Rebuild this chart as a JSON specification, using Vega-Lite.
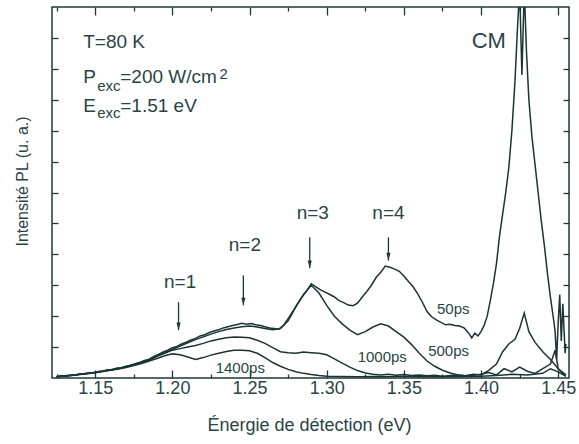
{
  "$schema": "https://vega.github.io/schema/vega-lite/v6.json",
  "width": 517,
  "height": 371,
  "autosize": {"type": "none"},
  "padding": {"left": 52, "top": 7, "right": 10, "bottom": 66},
  "background": "white",
  "config": {
    "view": {"stroke": "#1e3838", "strokeWidth": 1.5},
    "font": "Liberation Sans",
    "text": {"font": "Liberation Sans", "color": "#2a4444"}
  },
  "datasets": {
    "curves": [
      {"s":"50ps","e":1.125,"v":0.04},{"s":"50ps","e":1.128,"v":0.08},{"s":"50ps","e":1.131,"v":0.06},{"s":"50ps","e":1.134,"v":0.1},{"s":"50ps","e":1.137,"v":0.09},{"s":"50ps","e":1.14,"v":0.13},{"s":"50ps","e":1.143,"v":0.12},{"s":"50ps","e":1.146,"v":0.17},{"s":"50ps","e":1.149,"v":0.16},{"s":"50ps","e":1.152,"v":0.21},{"s":"50ps","e":1.155,"v":0.22},{"s":"50ps","e":1.158,"v":0.27},{"s":"50ps","e":1.161,"v":0.26},{"s":"50ps","e":1.164,"v":0.32},{"s":"50ps","e":1.167,"v":0.33},{"s":"50ps","e":1.17,"v":0.38},{"s":"50ps","e":1.173,"v":0.41},{"s":"50ps","e":1.176,"v":0.46},{"s":"50ps","e":1.179,"v":0.5},{"s":"50ps","e":1.182,"v":0.57},{"s":"50ps","e":1.185,"v":0.61},{"s":"50ps","e":1.188,"v":0.7},{"s":"50ps","e":1.191,"v":0.76},{"s":"50ps","e":1.194,"v":0.84},{"s":"50ps","e":1.197,"v":0.9},{"s":"50ps","e":1.2,"v":0.98},{"s":"50ps","e":1.203,"v":1.02},{"s":"50ps","e":1.206,"v":1.1},{"s":"50ps","e":1.209,"v":1.16},{"s":"50ps","e":1.212,"v":1.23},{"s":"50ps","e":1.215,"v":1.28},{"s":"50ps","e":1.218,"v":1.36},{"s":"50ps","e":1.221,"v":1.4},{"s":"50ps","e":1.224,"v":1.47},{"s":"50ps","e":1.227,"v":1.52},{"s":"50ps","e":1.23,"v":1.56},{"s":"50ps","e":1.233,"v":1.62},{"s":"50ps","e":1.236,"v":1.66},{"s":"50ps","e":1.239,"v":1.7},{"s":"50ps","e":1.242,"v":1.73},{"s":"50ps","e":1.245,"v":1.77},{"s":"50ps","e":1.248,"v":1.74},{"s":"50ps","e":1.251,"v":1.76},{"s":"50ps","e":1.254,"v":1.72},{"s":"50ps","e":1.257,"v":1.7},{"s":"50ps","e":1.26,"v":1.66},{"s":"50ps","e":1.263,"v":1.62},{"s":"50ps","e":1.266,"v":1.6},{"s":"50ps","e":1.269,"v":1.58},{"s":"50ps","e":1.272,"v":1.7},{"s":"50ps","e":1.275,"v":1.92},{"s":"50ps","e":1.278,"v":2.15},{"s":"50ps","e":1.281,"v":2.4},{"s":"50ps","e":1.284,"v":2.62},{"s":"50ps","e":1.287,"v":2.82},{"s":"50ps","e":1.29,"v":3.05},{"s":"50ps","e":1.293,"v":2.95},{"s":"50ps","e":1.296,"v":2.85},{"s":"50ps","e":1.299,"v":2.78},{"s":"50ps","e":1.302,"v":2.7},{"s":"50ps","e":1.305,"v":2.62},{"s":"50ps","e":1.308,"v":2.5},{"s":"50ps","e":1.311,"v":2.44},{"s":"50ps","e":1.314,"v":2.36},{"s":"50ps","e":1.317,"v":2.34},{"s":"50ps","e":1.32,"v":2.42},{"s":"50ps","e":1.323,"v":2.62},{"s":"50ps","e":1.326,"v":2.8},{"s":"50ps","e":1.329,"v":3.0},{"s":"50ps","e":1.332,"v":3.25},{"s":"50ps","e":1.335,"v":3.42},{"s":"50ps","e":1.338,"v":3.62},{"s":"50ps","e":1.341,"v":3.58},{"s":"50ps","e":1.344,"v":3.52},{"s":"50ps","e":1.347,"v":3.45},{"s":"50ps","e":1.35,"v":3.3},{"s":"50ps","e":1.353,"v":3.12},{"s":"50ps","e":1.356,"v":2.95},{"s":"50ps","e":1.359,"v":2.72},{"s":"50ps","e":1.362,"v":2.45},{"s":"50ps","e":1.365,"v":2.15},{"s":"50ps","e":1.368,"v":1.98},{"s":"50ps","e":1.371,"v":1.88},{"s":"50ps","e":1.374,"v":1.8},{"s":"50ps","e":1.377,"v":1.72},{"s":"50ps","e":1.38,"v":1.74},{"s":"50ps","e":1.383,"v":1.7},{"s":"50ps","e":1.386,"v":1.68},{"s":"50ps","e":1.389,"v":1.62},{"s":"50ps","e":1.392,"v":1.45},{"s":"50ps","e":1.394,"v":1.3},{"s":"50ps","e":1.396,"v":1.45},{"s":"50ps","e":1.398,"v":1.36},{"s":"50ps","e":1.4,"v":1.5},{"s":"50ps","e":1.402,"v":1.7},{"s":"50ps","e":1.404,"v":2.0},{"s":"50ps","e":1.406,"v":2.5},{"s":"50ps","e":1.408,"v":3.05},{"s":"50ps","e":1.41,"v":3.7},{"s":"50ps","e":1.412,"v":4.6},{"s":"50ps","e":1.414,"v":5.3},{"s":"50ps","e":1.416,"v":6.0},{"s":"50ps","e":1.418,"v":6.8},{"s":"50ps","e":1.42,"v":8.0},{"s":"50ps","e":1.422,"v":9.6},{"s":"50ps","e":1.4235,"v":11.2},{"s":"50ps","e":1.425,"v":12.6},{"s":"50ps","e":1.4265,"v":9.8},{"s":"50ps","e":1.428,"v":12.6},{"s":"50ps","e":1.4295,"v":10.5},{"s":"50ps","e":1.431,"v":9.0},{"s":"50ps","e":1.433,"v":7.8},{"s":"50ps","e":1.435,"v":6.9},{"s":"50ps","e":1.437,"v":6.0},{"s":"50ps","e":1.439,"v":5.1},{"s":"50ps","e":1.441,"v":4.3},{"s":"50ps","e":1.443,"v":3.4},{"s":"50ps","e":1.445,"v":2.6},{"s":"50ps","e":1.447,"v":1.9},{"s":"50ps","e":1.448,"v":1.5},{"s":"50ps","e":1.449,"v":0.6},{"s":"50ps","e":1.45,"v":1.8},{"s":"50ps","e":1.451,"v":2.7},{"s":"50ps","e":1.452,"v":1.2},{"s":"50ps","e":1.453,"v":2.4},{"s":"50ps","e":1.4545,"v":0.8},{"s":"50ps","e":1.455,"v":1.1},

      {"s":"500ps","e":1.125,"v":0.03},{"s":"500ps","e":1.13,"v":0.07},{"s":"500ps","e":1.135,"v":0.09},{"s":"500ps","e":1.14,"v":0.12},{"s":"500ps","e":1.145,"v":0.15},{"s":"500ps","e":1.15,"v":0.19},{"s":"500ps","e":1.155,"v":0.23},{"s":"500ps","e":1.16,"v":0.27},{"s":"500ps","e":1.165,"v":0.31},{"s":"500ps","e":1.17,"v":0.37},{"s":"500ps","e":1.175,"v":0.44},{"s":"500ps","e":1.18,"v":0.52},{"s":"500ps","e":1.185,"v":0.6},{"s":"500ps","e":1.19,"v":0.72},{"s":"500ps","e":1.195,"v":0.83},{"s":"500ps","e":1.2,"v":0.93},{"s":"500ps","e":1.205,"v":1.03},{"s":"500ps","e":1.21,"v":1.14},{"s":"500ps","e":1.215,"v":1.24},{"s":"500ps","e":1.22,"v":1.33},{"s":"500ps","e":1.225,"v":1.42},{"s":"500ps","e":1.23,"v":1.5},{"s":"500ps","e":1.235,"v":1.57},{"s":"500ps","e":1.24,"v":1.62},{"s":"500ps","e":1.245,"v":1.66},{"s":"500ps","e":1.25,"v":1.68},{"s":"500ps","e":1.255,"v":1.65},{"s":"500ps","e":1.26,"v":1.6},{"s":"500ps","e":1.265,"v":1.56},{"s":"500ps","e":1.27,"v":1.6},{"s":"500ps","e":1.275,"v":1.85},{"s":"500ps","e":1.28,"v":2.3},{"s":"500ps","e":1.285,"v":2.7},{"s":"500ps","e":1.29,"v":3.0},{"s":"500ps","e":1.295,"v":2.75},{"s":"500ps","e":1.3,"v":2.35},{"s":"500ps","e":1.305,"v":2.0},{"s":"500ps","e":1.31,"v":1.75},{"s":"500ps","e":1.315,"v":1.55},{"s":"500ps","e":1.32,"v":1.4},{"s":"500ps","e":1.325,"v":1.5},{"s":"500ps","e":1.33,"v":1.65},{"s":"500ps","e":1.335,"v":1.75},{"s":"500ps","e":1.34,"v":1.68},{"s":"500ps","e":1.345,"v":1.5},{"s":"500ps","e":1.35,"v":1.32},{"s":"500ps","e":1.355,"v":1.08},{"s":"500ps","e":1.36,"v":0.8},{"s":"500ps","e":1.365,"v":0.55},{"s":"500ps","e":1.37,"v":0.38},{"s":"500ps","e":1.375,"v":0.25},{"s":"500ps","e":1.38,"v":0.16},{"s":"500ps","e":1.385,"v":0.1},{"s":"500ps","e":1.39,"v":0.07},{"s":"500ps","e":1.395,"v":0.12},{"s":"500ps","e":1.4,"v":0.1},{"s":"500ps","e":1.405,"v":0.25},{"s":"500ps","e":1.41,"v":0.45},{"s":"500ps","e":1.414,"v":0.85},{"s":"500ps","e":1.418,"v":1.1},{"s":"500ps","e":1.422,"v":1.25},{"s":"500ps","e":1.425,"v":1.6},{"s":"500ps","e":1.428,"v":2.1},{"s":"500ps","e":1.431,"v":1.5},{"s":"500ps","e":1.435,"v":1.15},{"s":"500ps","e":1.44,"v":0.85},{"s":"500ps","e":1.445,"v":0.6},{"s":"500ps","e":1.45,"v":0.3},{"s":"500ps","e":1.453,"v":0.15},{"s":"500ps","e":1.455,"v":0.1},

      {"s":"1000ps","e":1.125,"v":0.04},{"s":"1000ps","e":1.13,"v":0.07},{"s":"1000ps","e":1.135,"v":0.09},{"s":"1000ps","e":1.14,"v":0.12},{"s":"1000ps","e":1.145,"v":0.15},{"s":"1000ps","e":1.15,"v":0.18},{"s":"1000ps","e":1.155,"v":0.22},{"s":"1000ps","e":1.16,"v":0.27},{"s":"1000ps","e":1.165,"v":0.3},{"s":"1000ps","e":1.17,"v":0.36},{"s":"1000ps","e":1.175,"v":0.42},{"s":"1000ps","e":1.18,"v":0.5},{"s":"1000ps","e":1.185,"v":0.58},{"s":"1000ps","e":1.19,"v":0.7},{"s":"1000ps","e":1.195,"v":0.8},{"s":"1000ps","e":1.2,"v":0.9},{"s":"1000ps","e":1.205,"v":0.95},{"s":"1000ps","e":1.21,"v":1.0},{"s":"1000ps","e":1.215,"v":1.05},{"s":"1000ps","e":1.22,"v":1.12},{"s":"1000ps","e":1.225,"v":1.2},{"s":"1000ps","e":1.23,"v":1.25},{"s":"1000ps","e":1.235,"v":1.3},{"s":"1000ps","e":1.24,"v":1.33},{"s":"1000ps","e":1.245,"v":1.32},{"s":"1000ps","e":1.25,"v":1.3},{"s":"1000ps","e":1.255,"v":1.22},{"s":"1000ps","e":1.26,"v":1.12},{"s":"1000ps","e":1.265,"v":0.98},{"s":"1000ps","e":1.27,"v":0.85},{"s":"1000ps","e":1.275,"v":0.82},{"s":"1000ps","e":1.28,"v":0.8},{"s":"1000ps","e":1.285,"v":0.84},{"s":"1000ps","e":1.29,"v":0.82},{"s":"1000ps","e":1.295,"v":0.8},{"s":"1000ps","e":1.3,"v":0.75},{"s":"1000ps","e":1.305,"v":0.62},{"s":"1000ps","e":1.31,"v":0.48},{"s":"1000ps","e":1.315,"v":0.35},{"s":"1000ps","e":1.32,"v":0.24},{"s":"1000ps","e":1.325,"v":0.16},{"s":"1000ps","e":1.33,"v":0.12},{"s":"1000ps","e":1.335,"v":0.1},{"s":"1000ps","e":1.34,"v":0.12},{"s":"1000ps","e":1.345,"v":0.09},{"s":"1000ps","e":1.35,"v":0.11},{"s":"1000ps","e":1.355,"v":0.08},{"s":"1000ps","e":1.36,"v":0.1},{"s":"1000ps","e":1.365,"v":0.07},{"s":"1000ps","e":1.37,"v":0.09},{"s":"1000ps","e":1.375,"v":0.06},{"s":"1000ps","e":1.38,"v":0.08},{"s":"1000ps","e":1.385,"v":0.1},{"s":"1000ps","e":1.39,"v":0.07},{"s":"1000ps","e":1.395,"v":0.09},{"s":"1000ps","e":1.4,"v":0.12},{"s":"1000ps","e":1.405,"v":0.18},{"s":"1000ps","e":1.41,"v":0.1},{"s":"1000ps","e":1.415,"v":0.3},{"s":"1000ps","e":1.42,"v":0.2},{"s":"1000ps","e":1.425,"v":0.35},{"s":"1000ps","e":1.43,"v":0.22},{"s":"1000ps","e":1.435,"v":0.15},{"s":"1000ps","e":1.44,"v":0.3},{"s":"1000ps","e":1.445,"v":0.45},{"s":"1000ps","e":1.448,"v":0.9},{"s":"1000ps","e":1.45,"v":0.3},{"s":"1000ps","e":1.455,"v":0.1},

      {"s":"1400ps","e":1.125,"v":0.04},{"s":"1400ps","e":1.13,"v":0.06},{"s":"1400ps","e":1.135,"v":0.08},{"s":"1400ps","e":1.14,"v":0.11},{"s":"1400ps","e":1.145,"v":0.14},{"s":"1400ps","e":1.15,"v":0.17},{"s":"1400ps","e":1.155,"v":0.21},{"s":"1400ps","e":1.16,"v":0.25},{"s":"1400ps","e":1.165,"v":0.29},{"s":"1400ps","e":1.17,"v":0.34},{"s":"1400ps","e":1.175,"v":0.4},{"s":"1400ps","e":1.18,"v":0.47},{"s":"1400ps","e":1.185,"v":0.55},{"s":"1400ps","e":1.19,"v":0.63},{"s":"1400ps","e":1.195,"v":0.72},{"s":"1400ps","e":1.2,"v":0.78},{"s":"1400ps","e":1.205,"v":0.75},{"s":"1400ps","e":1.21,"v":0.68},{"s":"1400ps","e":1.215,"v":0.6},{"s":"1400ps","e":1.22,"v":0.66},{"s":"1400ps","e":1.225,"v":0.74},{"s":"1400ps","e":1.23,"v":0.8},{"s":"1400ps","e":1.235,"v":0.86},{"s":"1400ps","e":1.24,"v":0.9},{"s":"1400ps","e":1.245,"v":0.9},{"s":"1400ps","e":1.25,"v":0.88},{"s":"1400ps","e":1.255,"v":0.8},{"s":"1400ps","e":1.26,"v":0.66},{"s":"1400ps","e":1.265,"v":0.5},{"s":"1400ps","e":1.27,"v":0.38},{"s":"1400ps","e":1.275,"v":0.28},{"s":"1400ps","e":1.28,"v":0.2},{"s":"1400ps","e":1.285,"v":0.15},{"s":"1400ps","e":1.29,"v":0.11},{"s":"1400ps","e":1.295,"v":0.08},{"s":"1400ps","e":1.3,"v":0.06},{"s":"1400ps","e":1.31,"v":0.05},{"s":"1400ps","e":1.32,"v":0.04},{"s":"1400ps","e":1.33,"v":0.05},{"s":"1400ps","e":1.34,"v":0.04},{"s":"1400ps","e":1.35,"v":0.06},{"s":"1400ps","e":1.36,"v":0.04},{"s":"1400ps","e":1.37,"v":0.05},{"s":"1400ps","e":1.38,"v":0.04},{"s":"1400ps","e":1.39,"v":0.05},{"s":"1400ps","e":1.4,"v":0.06},{"s":"1400ps","e":1.41,"v":0.08},{"s":"1400ps","e":1.42,"v":0.12},{"s":"1400ps","e":1.43,"v":0.1},{"s":"1400ps","e":1.44,"v":0.15},{"s":"1400ps","e":1.445,"v":0.3},{"s":"1400ps","e":1.45,"v":0.2},{"s":"1400ps","e":1.455,"v":0.05}
    ],
    "arrows": [
      {"e":1.204,"v1":2.45,"v2":1.55},
      {"e":1.246,"v1":3.32,"v2":2.35},
      {"e":1.289,"v1":4.55,"v2":3.55},
      {"e":1.34,"v1":4.55,"v2":3.8}
    ],
    "nlabels": [
      {"e":1.205,"v":3.1,"t":"n=1"},
      {"e":1.247,"v":4.29,"t":"n=2"},
      {"e":1.291,"v":5.35,"t":"n=3"},
      {"e":1.34,"v":5.35,"t":"n=4"}
    ],
    "tlabels": [
      {"e":1.382,"v":2.23,"t":"50ps"},
      {"e":1.379,"v":0.87,"t":"500ps"},
      {"e":1.336,"v":0.68,"t":"1000ps"},
      {"e":1.244,"v":0.32,"t":"1400ps"}
    ],
    "bigtext": [
      {"e":1.1422,"v":10.87,"t":"T=80 K"},
      {"e":1.1422,"v":9.73,"t":"P"},
      {"e":1.1662,"v":9.73,"t":"=200 W/cm"},
      {"e":1.1422,"v":8.81,"t":"E"},
      {"e":1.1662,"v":8.81,"t":"=1.51 eV"}
    ],
    "subtext": [
      {"e":1.1513,"v":9.45,"t":"exc"},
      {"e":1.1513,"v":8.58,"t":"exc"},
      {"e":1.2305,"v":9.82,"t":"2"}
    ],
    "cm": [{"e":1.405,"v":10.9,"t":"CM"}]
  },
  "resolve": {"axis": {"x": "independent", "y": "independent"}},
  "layer": [
    {
      "data": {"name": "curves"},
      "mark": {"type": "line", "clip": true, "strokeWidth": 1.5, "color": "#1b3434"},
      "encoding": {
        "x": {"field": "e", "type": "quantitative",
          "scale": {"domain": [1.122, 1.457], "nice": false, "zero": false},
          "axis": {"orient": "bottom",
            "values": [1.125,1.15,1.175,1.2,1.225,1.25,1.275,1.3,1.325,1.35,1.375,1.4,1.425,1.45],
            "labelExpr": "abs(datum.value*20-round(datum.value*20))<0.01 ? format(datum.value,'.2f') : ''",
            "tickSize": {"condition": {"test": "abs(datum.value*20-round(datum.value*20))<0.01", "value": -8}, "value": -4},
            "tickColor": "#1e3838", "tickWidth": 1.3, "domain": false, "grid": false,
            "labelFont": "Liberation Sans", "labelFontSize": 18, "labelColor": "#2a4444", "labelPadding": 9, "labelFlush": false,
            "title": "Énergie de détection (eV)", "titleFont": "Liberation Sans", "titleFontSize": 18, "titleFontWeight": "normal",
            "titleColor": "#2a4444", "titleX": 257, "titleY": 52, "titleBaseline": "alphabetic", "titleAlign": "center"}},
        "y": {"field": "v", "type": "quantitative",
          "scale": {"domain": [0, 12], "nice": false},
          "axis": {"orient": "left", "values": [1,2,3,4,5,6,7,8,9,10,11], "labels": false,
            "tickSize": -6, "tickColor": "#1e3838", "tickWidth": 1.3, "domain": false, "grid": false,
            "title": "Intensité PL (u. a.)", "titleFont": "Liberation Sans", "titleFontSize": 16, "titleFontWeight": "normal",
            "titleColor": "#2a4444", "titleX": -30, "titleY": 174, "titleAngle": -90, "titleAlign": "center", "titleBaseline": "middle"}},
        "detail": {"field": "s"}
      }
    },
    {
      "data": {"name": "arrows"},
      "mark": {"type": "rule", "color": "#1e3838", "strokeWidth": 1.3},
      "encoding": {
        "x": {"field": "e", "type": "quantitative",
          "axis": {"orient": "top",
            "values": [1.125,1.15,1.175,1.2,1.225,1.25,1.275,1.3,1.325,1.35,1.375,1.4,1.425,1.45],
            "labels": false,
            "tickSize": {"condition": {"test": "abs(datum.value*20-round(datum.value*20))<0.01", "value": -8}, "value": -4},
            "tickColor": "#1e3838", "tickWidth": 1.3, "domain": false, "grid": false, "title": null}},
        "y": {"field": "v1", "type": "quantitative",
          "axis": {"orient": "right", "values": [1,2,3,4,5,6,7,8,9,10,11], "labels": false,
            "tickSize": -6, "tickColor": "#1e3838", "tickWidth": 1.3, "domain": false, "grid": false, "title": null}},
        "y2": {"field": "v2"}
      }
    },
    {
      "data": {"name": "arrows"},
      "mark": {"type": "point", "shape": "M-0.6,-2.2L0.6,-2.2L0,0Z", "filled": true, "color": "#1e3838", "size": 49, "opacity": 1},
      "encoding": {
        "x": {"field": "e", "type": "quantitative", "axis": null},
        "y": {"field": "v2", "type": "quantitative", "axis": null}
      }
    },
    {
      "data": {"name": "nlabels"},
      "mark": {"type": "text", "fontSize": 19, "align": "center", "baseline": "middle", "color": "#2a4444"},
      "encoding": {
        "x": {"field": "e", "type": "quantitative", "axis": null},
        "y": {"field": "v", "type": "quantitative", "axis": null},
        "text": {"field": "t"}
      }
    },
    {
      "data": {"name": "tlabels"},
      "mark": {"type": "text", "fontSize": 15, "align": "center", "baseline": "middle", "color": "#2a4444"},
      "encoding": {
        "x": {"field": "e", "type": "quantitative", "axis": null},
        "y": {"field": "v", "type": "quantitative", "axis": null},
        "text": {"field": "t"}
      }
    },
    {
      "data": {"name": "bigtext"},
      "mark": {"type": "text", "fontSize": 19, "align": "left", "baseline": "middle", "color": "#2a4444"},
      "encoding": {
        "x": {"field": "e", "type": "quantitative", "axis": null},
        "y": {"field": "v", "type": "quantitative", "axis": null},
        "text": {"field": "t"}
      }
    },
    {
      "data": {"name": "subtext"},
      "mark": {"type": "text", "fontSize": 15, "align": "left", "baseline": "middle", "color": "#2a4444"},
      "encoding": {
        "x": {"field": "e", "type": "quantitative", "axis": null},
        "y": {"field": "v", "type": "quantitative", "axis": null},
        "text": {"field": "t"}
      }
    },
    {
      "data": {"name": "cm"},
      "mark": {"type": "text", "fontSize": 22, "align": "center", "baseline": "middle", "color": "#2a4444"},
      "encoding": {
        "x": {"field": "e", "type": "quantitative", "axis": null},
        "y": {"field": "v", "type": "quantitative", "axis": null},
        "text": {"field": "t"}
      }
    }
  ]
}
